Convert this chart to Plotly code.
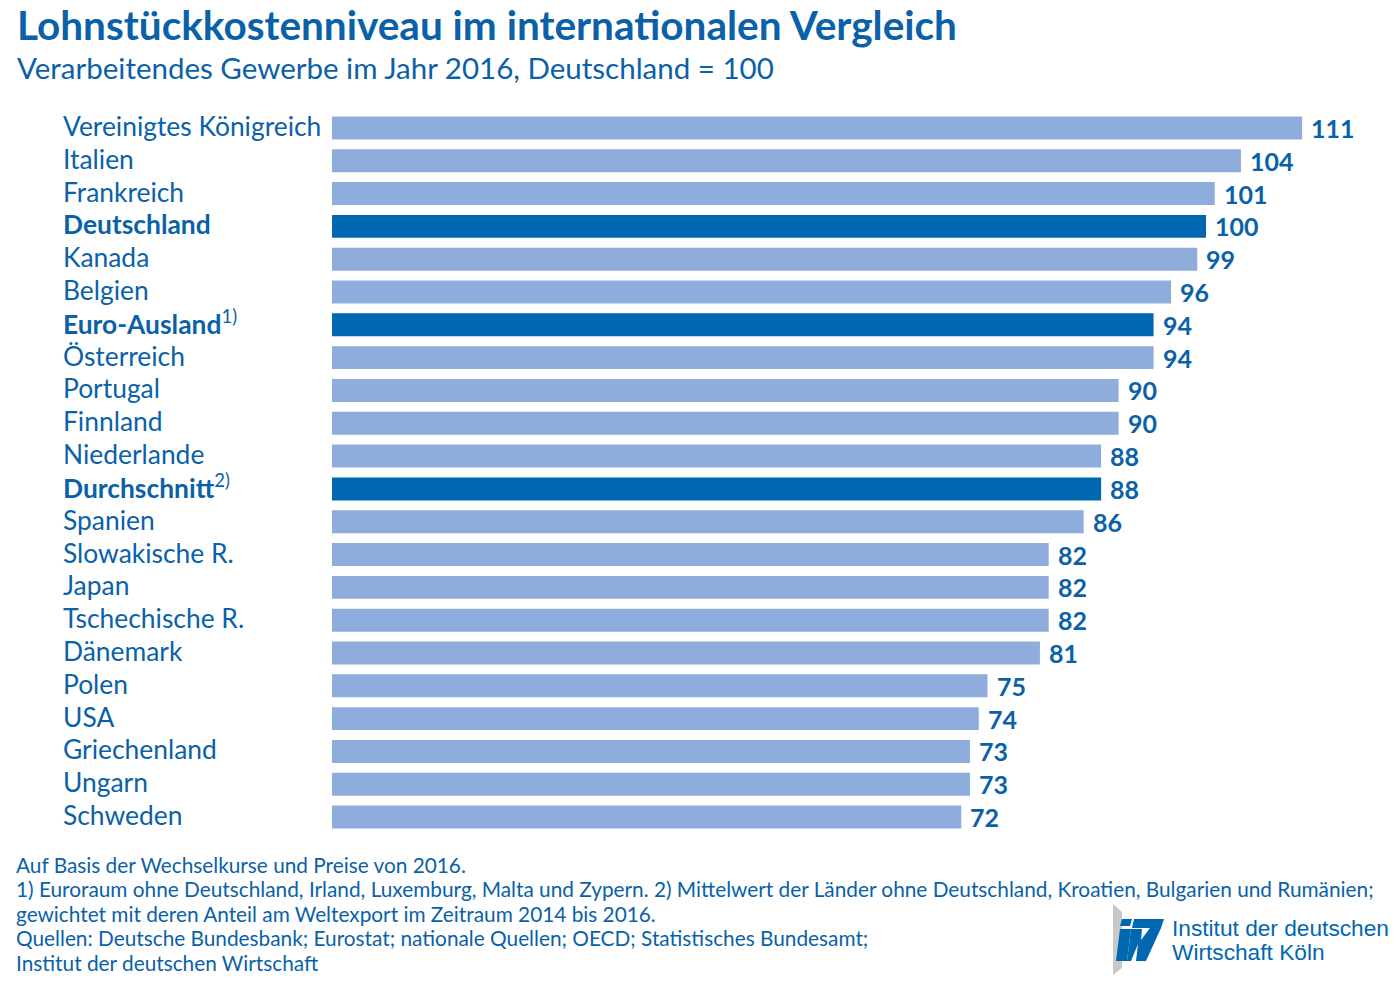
import plotly.graph_objects as go

# ---- data ----
categories = [
    "Vereinigtes Königreich", "Italien", "Frankreich", "Deutschland", "Kanada",
    "Belgien", "Euro-Ausland", "Österreich", "Portugal", "Finnland",
    "Niederlande", "Durchschnitt", "Spanien", "Slowakische R.", "Japan",
    "Tschechische R.", "Dänemark", "Polen", "USA", "Griechenland", "Ungarn",
    "Schweden",
]
values = [111, 104, 101, 100, 99, 96, 94, 94, 90, 90, 88, 88, 86, 82, 82, 82,
          81, 75, 74, 73, 73, 72]
highlight = ["Deutschland", "Euro-Ausland", "Durchschnitt"]
footnote_marks = {"Euro-Ausland": "1)", "Durchschnitt": "2)"}

title = "Lohnstückkostenniveau im internationalen Vergleich"
subtitle = "Verarbeitendes Gewerbe im Jahr 2016, Deutschland = 100"
footnotes = [
    "Auf Basis der Wechselkurse und Preise von 2016.",
    "1) Euroraum ohne Deutschland, Irland, Luxemburg, Malta und Zypern. 2) Mittelwert der Länder ohne Deutschland, Kroatien, Bulgarien und Rumänien;",
    "gewichtet mit deren Anteil am Weltexport im Zeitraum 2014 bis 2016.",
    "Quellen: Deutsche Bundesbank; Eurostat; nationale Quellen; OECD; Statistisches Bundesamt;",
    "Institut der deutschen Wirtschaft",
]
logo_lines = ["Institut der deutschen", "Wirtschaft Köln"]

# ---- styling ----
W, H = 1400, 985
LIGHT = "#8eaddc"
DARK = "#0067b1"
TEXT = "#0a61a8"
FONT = "Source Sans Pro, Lato, Roboto, sans-serif"

colors = [DARK if c in highlight else LIGHT for c in categories]

fig = go.Figure(go.Bar(
    x=values, y=categories, orientation="h",
    marker=dict(color=colors, line=dict(width=0)),
    hoverinfo="skip",
))

def px_x(p):
    return p / W

def px_y(p):
    return 1 - p / H

plot_left, plot_top, plot_bottom = 332, 111.5, 833.5
x_max = (W - plot_left) / 8.74

fig.update_layout(
    width=W, height=H,
    margin=dict(l=0, r=0, t=0, b=0),
    paper_bgcolor="white", plot_bgcolor="white",
    showlegend=False,
    bargap=0.30,
    xaxis=dict(domain=[px_x(plot_left), 1], range=[0, x_max], visible=False,
               fixedrange=True),
    yaxis=dict(domain=[px_y(plot_bottom), px_y(plot_top)], type="category",
               categoryorder="array", categoryarray=categories,
               range=[len(categories) - 0.5, -0.5], visible=False,
               fixedrange=True),
    font=dict(family=FONT, color=TEXT),
)

annotations = []
# category labels (left-aligned)
for c in categories:
    label = c
    if c in highlight:
        label = f"<b>{c}</b>"
    if c in footnote_marks:
        label += f"<sup>{footnote_marks[c]}</sup>"
    annotations.append(dict(
        x=px_x(61), xref="paper", y=c, yref="y", text=label,
        xanchor="left", yanchor="middle", showarrow=False,
        font=dict(family=FONT, size=26.4, color=TEXT), yshift=2,
    ))
# value labels
for c, v in zip(categories, values):
    annotations.append(dict(
        x=v, xref="x", y=c, yref="y", text=f"<b>{v}</b>",
        xanchor="left", yanchor="middle", showarrow=False, xshift=7,
        font=dict(family=FONT, size=25, color=TEXT), yshift=0,
    ))
# title / subtitle
annotations.append(dict(
    x=px_x(15), y=px_y(24), xref="paper", yref="paper", text=f"<b>{title}</b>",
    xanchor="left", yanchor="middle", showarrow=False,
    font=dict(family=FONT, size=40.5, color=TEXT),
))
annotations.append(dict(
    x=px_x(15), y=px_y(67), xref="paper", yref="paper", text=subtitle,
    xanchor="left", yanchor="middle", showarrow=False,
    font=dict(family=FONT, size=29.5, color=TEXT),
))
# footnotes
for i, line in enumerate(footnotes):
    annotations.append(dict(
        x=px_x(14), y=px_y(864 + i * 24.5), xref="paper", yref="paper",
        text=line, xanchor="left", yanchor="middle", showarrow=False,
        font=dict(family=FONT, size=20.8, color=TEXT),
    ))
# logo text
for i, line in enumerate(logo_lines):
    annotations.append(dict(
        x=px_x(1170), y=px_y(928 + i * 24), xref="paper", yref="paper",
        text=line, xanchor="left", yanchor="middle", showarrow=False,
        font=dict(family="Liberation Sans, Arial, sans-serif", size=22.7,
                  color=DARK),
    ))
fig.update_layout(annotations=annotations)

# logo graphic
def poly(points):
    d = "M " + " L ".join(f"{px_x(x):.5f},{px_y(y):.5f}" for x, y in points) + " Z"
    return d

shapes = [
    dict(type="path", xref="paper", yref="paper", line=dict(width=0),
         fillcolor="#c8c8c8",
         path=poly([(1113, 904), (1122, 912), (1122, 968), (1113, 975)])),
    # i dot
    dict(type="path", xref="paper", yref="paper", line=dict(width=0),
         fillcolor=DARK,
         path=poly([(1122, 919), (1132, 919), (1130, 926), (1120, 926)])),
    # i stem
    dict(type="path", xref="paper", yref="paper", line=dict(width=0),
         fillcolor=DARK,
         path=poly([(1120, 929), (1131, 929), (1127, 961), (1116, 961)])),
    # w / 7 shape
    dict(type="path", xref="paper", yref="paper", line=dict(width=0),
         fillcolor=DARK,
         path=poly([(1134, 919), (1164, 919), (1161, 928), (1146, 961),
                    (1136, 961), (1138, 944), (1131, 961), (1127, 961),
                    (1131, 929), (1142, 929), (1141, 940), (1150, 928),
                    (1132, 928)])),
]
fig.update_layout(shapes=shapes)

fig.write_html("out.html",
               config={"displayModeBar": False},
               post_script="document.body.style.margin='0';"
                           "document.body.style.padding='0';")
